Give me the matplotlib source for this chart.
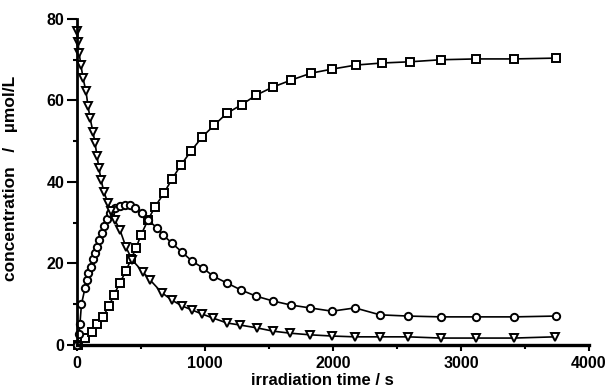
import matplotlib
matplotlib.use("Agg")
import matplotlib.pyplot as plt
from matplotlib.ticker import MultipleLocator

# irradiation time (s) / concentration (umol/L)
t_tri = [0, 8, 16, 31, 47, 70, 86, 102, 125, 141, 156, 172, 188, 211, 242, 266, 297, 336,
         383, 430, 516, 570, 664, 742, 820, 898, 977, 1063, 1172, 1273, 1406, 1531, 1664,
         1820, 1992, 2172, 2367, 2586, 2844, 3117, 3414, 3734]
c_tri = [77.1, 74.4, 71.7, 68.7, 65.5, 62.3, 58.7, 55.7, 52.3, 49.6, 46.4, 43.4, 40.5, 37.5,
         34.8, 32.8, 30.6, 28.2, 24.0, 20.9, 17.9, 16.0, 12.8, 11.0, 9.6, 8.6, 7.6, 6.6, 5.4,
         4.9, 4.2, 3.4, 2.9, 2.5, 2.2, 2.0, 2.0, 2.0, 1.7, 1.7, 1.7, 2.0]

t_circ = [0, 16, 23, 35, 63, 78, 86, 109, 125, 141, 156, 172, 195, 211, 234, 258, 297, 336,
          375, 414, 453, 508, 555, 625, 672, 742, 820, 898, 984, 1063, 1172, 1281, 1398,
          1531, 1672, 1820, 1992, 2172, 2367, 2586, 2844, 3117, 3414, 3742]
c_circ = [0, 2.7, 5.2, 10.0, 14.0, 16.0, 17.7, 19.1, 21.1, 22.6, 24.0, 25.8, 27.5, 29.2,
          30.9, 32.4, 33.6, 34.1, 34.4, 34.4, 33.6, 32.4, 30.7, 28.7, 27.0, 25.0, 22.8, 20.6,
          18.9, 16.9, 15.2, 13.5, 12.0, 10.8, 9.8, 9.1, 8.3, 9.1, 7.4, 7.1, 6.9, 6.9, 6.9, 7.1]

t_sq = [8, 63, 117, 156, 203, 250, 289, 336, 383, 422, 461, 500, 555, 609, 680, 742, 813,
        891, 977, 1070, 1172, 1289, 1398, 1531, 1672, 1828, 1992, 2180, 2383, 2602, 2844,
        3117, 3414, 3742]
c_sq = [0, 1.7, 3.2, 5.2, 6.9, 9.6, 12.3, 15.3, 18.2, 21.0, 23.8, 27.0, 30.7, 33.9, 37.3,
        40.7, 44.2, 47.6, 51.0, 53.9, 56.9, 59.0, 61.3, 63.3, 65.0, 66.7, 67.7, 68.7, 69.2,
        69.5, 70.0, 70.2, 70.2, 70.4]

plt.rcParams['font.family'] = ['Liberation Sans', 'DejaVu Sans']
plt.rcParams['font.weight'] = 'bold'

fig = plt.figure(figsize=(6.11, 3.90), dpi=100)
ax = fig.add_axes([0.126, 0.1154, 0.838, 0.8359])

style = dict(color='black', lw=1.2, markerfacecolor='white', markeredgecolor='black',
             markeredgewidth=1.4, clip_on=False)
ax.plot(t_sq, c_sq, marker='s', markersize=5.3, **style)
ax.plot(t_circ, c_circ, marker='o', markersize=5.3, **style)
ax.plot(t_tri, c_tri, marker='v', markersize=6, **style)

ax.set_xlim(0, 4000)
ax.set_ylim(0, 80)
ax.xaxis.set_major_locator(MultipleLocator(1000))
ax.xaxis.set_minor_locator(MultipleLocator(500))
ax.yaxis.set_major_locator(MultipleLocator(20))
ax.yaxis.set_minor_locator(MultipleLocator(10))

for s in ['top', 'right']:
    ax.spines[s].set_visible(False)
ax.spines['left'].set_linewidth(2)
ax.spines['bottom'].set_linewidth(2.4)
ax.tick_params(axis='y', which='major', length=7, width=1.5, labelsize=11.5, pad=2)
ax.tick_params(axis='x', which='major', length=4, width=1.5, labelsize=11.5, pad=4)
ax.tick_params(which='minor', length=3, width=1.5)

ax.set_xlabel('irradiation time / s', fontsize=12, fontweight='bold')
ax.xaxis.set_label_coords(0.479, -0.085)
ax.set_ylabel('concentration   /   µmol/L', fontsize=12.5, fontweight='bold')
ax.yaxis.set_label_coords(-0.115, 0.51)

fig.savefig('out.png', dpi=100)
